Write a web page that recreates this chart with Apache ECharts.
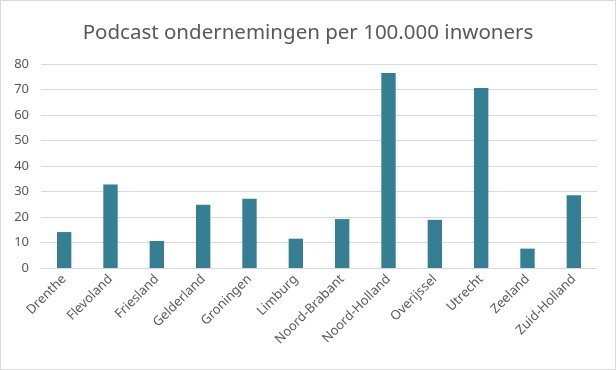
<!DOCTYPE html>
<html><head><meta charset="utf-8">
<script src="https://cdn.jsdelivr.net/npm/echarts@6/dist/echarts.min.js"></script>
<style>html,body{margin:0;padding:0;background:#fff}#c{width:616px;height:370px;box-sizing:border-box;border:1px solid #d9d9d9}</style>
</head><body><div id="c"></div>
<script>
const categories = ["Drenthe","Flevoland","Friesland","Gelderland","Groningen","Limburg","Noord-Brabant","Noord-Holland","Overijssel","Utrecht","Zeeland","Zuid-Holland"];
const values = [14.1, 32.7, 10.6, 24.8, 27.2, 11.5, 19.2, 76.5, 18.9, 70.6, 7.6, 28.5];
const title = "Podcast ondernemingen per 100.000 inwoners";
const chart = echarts.init(document.getElementById('c'), null, {renderer:'canvas'});
chart.setOption({
  animation:false,
  title:{text:title,left:'center',top:17,textStyle:{fontFamily:'Noto Sans',fontSize:20.5,fontWeight:'normal',color:'#595959'}},
  grid:{left:40,right:18,top:63,bottom:101},
  xAxis:{type:'category',data:categories,
    axisLine:{lineStyle:{color:'#d9d9d9'}},axisTick:{show:false},
    axisLabel:{rotate:45,interval:0,color:'#595959',fontFamily:'Noto Sans',fontSize:13,margin:9}},
  yAxis:{type:'value',min:0,max:80,interval:10,
    axisLine:{show:false},axisTick:{show:false},
    splitLine:{lineStyle:{color:'#d9d9d9'}},
    axisLabel:{color:'#595959',fontFamily:'Noto Sans',fontSize:13,margin:12}},
  series:[{type:'bar',data:values,barWidth:'31%',itemStyle:{color:'#357f94'}}]
});
</script></body></html>
